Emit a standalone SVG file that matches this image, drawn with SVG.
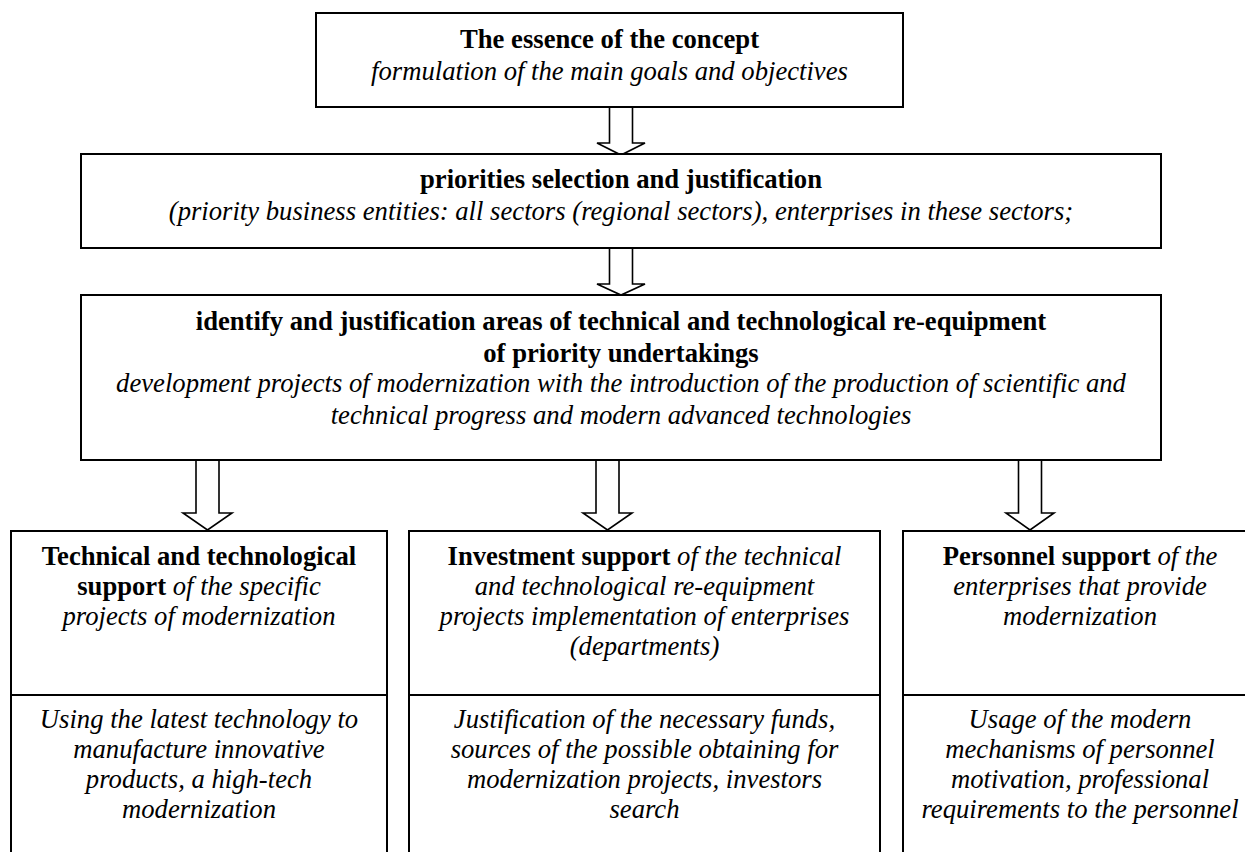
<svg xmlns="http://www.w3.org/2000/svg" width="1245" height="852" viewBox="0 0 1245 852" font-family="'Liberation Serif', 'Times New Roman', Tinos, 'DejaVu Serif', 'Noto Serif', serif">
<style>
.box{fill:#fff;stroke:#000;stroke-width:2}
.div{stroke:#000;stroke-width:2}
.arr{fill:#fff;stroke:#000;stroke-width:1.6;stroke-linejoin:miter}
text{font-family:'Liberation Serif','Times New Roman',Tinos,'DejaVu Serif','Noto Serif',serif;font-size:26.67px;fill:#000;text-anchor:middle}
.b{font-weight:bold}
.i{font-style:italic}
</style>
<rect width="1245" height="852" fill="#fff"/>
<g id="connectors">
<polygon class="arr" points="609.5,107 632.5,107 632.5,143 645,143 621,155 597,143 609.5,143"/>
<polygon class="arr" points="609.5,248 632.5,248 632.5,284 645,284 621,295 597,284 609.5,284"/>
<polygon class="arr" points="196,460 219,460 219,513 232,513 207.5,530 183,513 196,513"/>
<polygon class="arr" points="596,460 619,460 619,513 632,513 607.5,530 583,513 596,513"/>
<polygon class="arr" points="1018.5,460 1041.5,460 1041.5,513 1054,513 1030,530 1006,513 1018.5,513"/>
</g>
<g id="node-essence">
<rect class="box" x="316" y="13" width="587" height="94"/>
<text x="609.5" y="48" class="b">The essence of the concept</text>
<text x="609.5" y="80" class="i">formulation of the main goals and objectives</text>
</g>
<g id="node-priorities">
<rect class="box" x="81" y="154" width="1080" height="94"/>
<text x="621" y="188" class="b">priorities selection and justification</text>
<text x="621" y="220" class="i">(priority business entities: all sectors (regional sectors), enterprises in these sectors;</text>
</g>
<g id="node-identify">
<rect class="box" x="81" y="295" width="1080" height="165"/>
<text x="621" y="330" class="b">identify and justification areas of technical and technological re-equipment</text>
<text x="621" y="362" class="b">of priority undertakings</text>
<text x="621" y="392" class="i">development projects of modernization with the introduction of the production of scientific and</text>
<text x="621" y="424" class="i">technical progress and modern advanced technologies</text>
</g>
<g id="node-technical">
<rect class="box" x="11" y="531" width="376" height="330"/>
<line class="div" x1="11" y1="695" x2="387" y2="695"/>
<text x="199" y="565"><tspan class="b">Technical and technological</tspan></text>
<text x="199" y="595"><tspan class="b">support</tspan><tspan class="i"> of the specific</tspan></text>
<text x="199" y="625" class="i">projects of modernization</text>
<text x="199" y="728" class="i">Using the latest technology to</text>
<text x="199" y="758" class="i">manufacture innovative</text>
<text x="199" y="788" class="i">products, a high-tech</text>
<text x="199" y="818" class="i">modernization</text>
</g>
<g id="node-investment">
<rect class="box" x="409" y="531" width="471" height="330"/>
<line class="div" x1="409" y1="695" x2="880" y2="695"/>
<text x="644.5" y="565"><tspan class="b">Investment support</tspan><tspan class="i"> of the technical</tspan></text>
<text x="644.5" y="595" class="i">and technological re-equipment</text>
<text x="644.5" y="625" class="i">projects implementation of enterprises</text>
<text x="644.5" y="655" class="i">(departments)</text>
<text x="644.5" y="728" class="i">Justification of the necessary funds,</text>
<text x="644.5" y="758" class="i">sources of the possible obtaining for</text>
<text x="644.5" y="788" class="i">modernization projects, investors</text>
<text x="644.5" y="818" class="i">search</text>
</g>
<g id="node-personnel">
<rect class="box" x="903" y="531" width="354" height="330"/>
<line class="div" x1="903" y1="695" x2="1257" y2="695"/>
<text x="1080" y="565"><tspan class="b">Personnel support</tspan><tspan class="i"> of the</tspan></text>
<text x="1080" y="595" class="i">enterprises that provide</text>
<text x="1080" y="625" class="i">modernization</text>
<text x="1080" y="728" class="i">Usage of the modern</text>
<text x="1080" y="758" class="i">mechanisms of personnel</text>
<text x="1080" y="788" class="i">motivation, professional</text>
<text x="1080" y="818" class="i">requirements to the personnel</text>
</g>
</svg>
